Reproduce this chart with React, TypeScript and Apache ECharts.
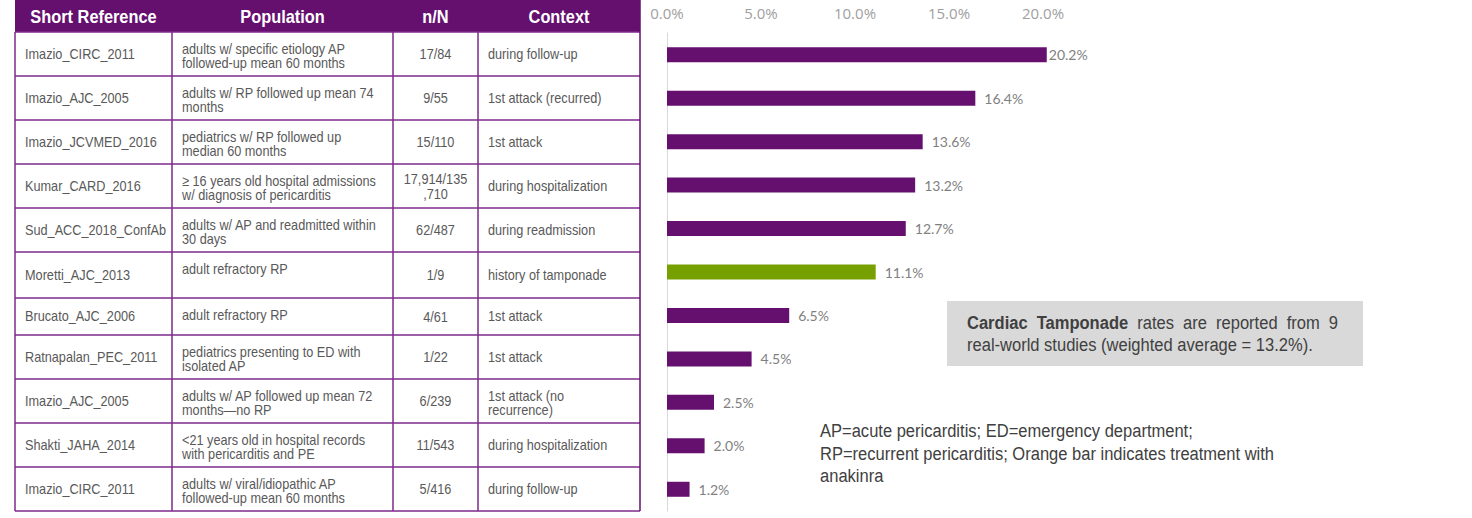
import React, { useEffect, useRef } from "react";
import * as echarts from "echarts";

// ---------- data ----------
const headers = ["Short Reference", "Population", "n/N", "Context"];
const references = [
  "Imazio_CIRC_2011",
  "Imazio_AJC_2005",
  "Imazio_JCVMED_2016",
  "Kumar_CARD_2016",
  "Sud_ACC_2018_ConfAb",
  "Moretti_AJC_2013",
  "Brucato_AJC_2006",
  "Ratnapalan_PEC_2011",
  "Imazio_AJC_2005",
  "Shakti_JAHA_2014",
  "Imazio_CIRC_2011",
];
const populations = [
  "adults w/ specific etiology AP\nfollowed-up mean 60 months",
  "adults w/ RP followed up mean 74\nmonths",
  "pediatrics w/ RP followed up\nmedian 60 months",
  "≥ 16 years old hospital admissions\nw/ diagnosis of pericarditis",
  "adults w/ AP and readmitted within\n30 days",
  "adult refractory RP",
  "adult refractory RP",
  "pediatrics presenting to ED with\nisolated AP",
  "adults w/ AP followed up mean 72\nmonths—no RP",
  "<21 years old in hospital records\nwith pericarditis and PE",
  "adults w/ viral/idiopathic AP\nfollowed-up mean 60 months",
];
const counts = [
  "17/84",
  "9/55",
  "15/110",
  "17,914/135\n,710",
  "62/487",
  "1/9",
  "4/61",
  "1/22",
  "6/239",
  "11/543",
  "5/416",
];
const contexts = [
  "during follow-up",
  "1st attack (recurred)",
  "1st attack",
  "during hospitalization",
  "during readmission",
  "history of tamponade",
  "1st attack",
  "1st attack",
  "1st attack (no\nrecurrence)",
  "during hospitalization",
  "during follow-up",
];
const rates = [20.2, 16.4, 13.6, 13.2, 12.7, 11.1, 6.5, 4.5, 2.5, 2.0, 1.2];
const greenRows = [5];
const xTicks = [0, 5, 10, 15, 20];
const xMax = 22;

const summaryWords = ["Cardiac", "Tamponade", "rates", "are", "reported", "from", "9"];
const summaryBoldCount = 2;
const summaryLine2 = "real-world studies (weighted average = 13.2%).";
const footnote =
  "AP=acute pericarditis; ED=emergency department;\nRP=recurrent pericarditis; Orange bar indicates treatment with\nanakinra";

// ---------- layout / style ----------
const PURPLE = "#65106f";
const GREEN = "#76a000";
const GRID_LINE = "#7d2b8b";
const BODY_TEXT = "#595959";
const SANS = '"Liberation Sans", Arial, sans-serif';
const NARROW_SCALE = 0.87;
const rowBounds = [32, 76, 120, 164, 208, 252, 298, 335, 379, 423, 467, 511];
const colBounds = [15, 172, 393, 478, 640];
const BOX = { x: 947, y: 301, w: 416, h: 65, textLeft: 967, textRight: 1338 };

function measure(text: string, size: number, weight: string): number {
  const c = document.createElement("canvas").getContext("2d");
  if (!c) return text.length * size * 0.5;
  c.font = `${weight} ${size}px "Liberation Sans"`;
  return c.measureText(text).width;
}

function narrowText(x: number, y: number, style: any) {
  return { type: "text", x, y, scaleX: NARROW_SCALE, style: { fontFamily: SANS, ...style } };
}

function buildGraphics() {
  const els: any[] = [];
  els.push({
    type: "rect",
    shape: { x: colBounds[0], y: 0, width: colBounds[4] - colBounds[0], height: rowBounds[0] },
    style: { fill: PURPLE },
  });
  headers.forEach((h, i) => {
    els.push(
      narrowText((colBounds[i] + colBounds[i + 1]) / 2, rowBounds[0] / 2 + 1, {
        text: h,
        fill: "#ffffff",
        fontSize: 18.8,
        fontWeight: "bold",
        align: "center",
        verticalAlign: "middle",
      })
    );
  });
  rowBounds.forEach((y) => {
    els.push({
      type: "line",
      shape: { x1: colBounds[0], y1: y, x2: colBounds[4], y2: y },
      style: { stroke: GRID_LINE, lineWidth: 1.5 },
    });
  });
  colBounds.forEach((x, i) => {
    els.push({
      type: "line",
      shape: { x1: x, y1: i === 4 ? 0 : rowBounds[0], x2: x, y2: rowBounds[rowBounds.length - 1] },
      style: { stroke: i === 4 ? PURPLE : GRID_LINE, lineWidth: 1.5 },
    });
  });
  references.forEach((ref, r) => {
    const top = rowBounds[r];
    const bot = rowBounds[r + 1];
    const mid = (top + bot) / 2;
    const base = { fill: BODY_TEXT, fontSize: 14.6, lineHeight: 14.5 };
    els.push(narrowText(colBounds[0] + 10, mid, { ...base, text: ref, align: "left", verticalAlign: "middle" }));
    els.push(
      narrowText(colBounds[1] + 10, top + 9.5, { ...base, text: populations[r], align: "left", verticalAlign: "top" })
    );
    els.push(
      narrowText((colBounds[2] + colBounds[3]) / 2, mid + 0.5, {
        ...base,
        text: counts[r],
        align: "center",
        verticalAlign: "middle",
      })
    );
    const multi = contexts[r].indexOf("\n") >= 0;
    els.push(
      narrowText(colBounds[3] + 10, multi ? top + 9.5 : mid, {
        ...base,
        text: contexts[r],
        align: "left",
        verticalAlign: multi ? "top" : "middle",
      })
    );
  });
  // summary box
  els.push({
    type: "rect",
    shape: { x: BOX.x, y: BOX.y, width: BOX.w, height: BOX.h },
    style: { fill: "#d9d9d9" },
  });
  const boxSize = 19;
  const widths = summaryWords.map(
    (w, i) => measure(w, boxSize, i < summaryBoldCount ? "bold" : "normal") * NARROW_SCALE
  );
  const total = widths.reduce((a, b) => a + b, 0);
  const gap = (BOX.textRight - BOX.textLeft - total) / (summaryWords.length - 1);
  let cx = BOX.textLeft;
  summaryWords.forEach((w, i) => {
    els.push(
      narrowText(cx, 323, {
        text: w,
        fill: "#404040",
        fontSize: boxSize,
        fontWeight: i < summaryBoldCount ? "bold" : "normal",
        align: "left",
        verticalAlign: "middle",
      })
    );
    cx += widths[i] + gap;
  });
  els.push(
    narrowText(BOX.textLeft, 345, {
      text: summaryLine2,
      fill: "#404040",
      fontSize: boxSize,
      align: "left",
      verticalAlign: "middle",
    })
  );
  els.push(
    narrowText(820, 419.75, {
      text: footnote,
      fill: "#404040",
      fontSize: 19,
      lineHeight: 22.5,
      align: "left",
      verticalAlign: "top",
    })
  );
  return els;
}

export default function App() {
  const ref = useRef<HTMLDivElement>(null);
  useEffect(() => {
    document.body.style.margin = "0";
    if (!ref.current) return;
    const chart = echarts.init(ref.current, null, { renderer: "svg" });
    const pxPerUnit = 18.8;
    chart.setOption({
      animation: false,
      backgroundColor: "#ffffff",
      grid: { left: 667, top: 33, width: xMax * pxPerUnit, height: 478 },
      xAxis: {
        type: "value",
        position: "top",
        min: xTicks[0],
        max: xMax,
        interval: xTicks[1] - xTicks[0],
        axisLine: { show: false },
        axisTick: { show: false },
        splitLine: { show: false },
        axisLabel: {
          formatter: (v: number) => v.toFixed(1) + "%",
          color: "#a0a0a0",
          fontSize: 15,
          fontFamily: '"Open Sans", sans-serif',
          margin: 13,
          showMaxLabel: false,
        },
      },
      yAxis: {
        type: "category",
        inverse: true,
        data: references.map((_, i) => String(i)),
        axisLine: { lineStyle: { color: "#d9d9d9", width: 1 } },
        axisTick: { length: 4, lineStyle: { color: "#d9d9d9" } },
        axisLabel: { show: false },
      },
      series: [
        {
          type: "bar",
          barWidth: 15,
          data: rates.map((v, i) => ({
            value: v,
            itemStyle: { color: greenRows.includes(i) ? GREEN : PURPLE },
            label: i === 0 ? { distance: 2 } : undefined,
          })),
          label: {
            show: true,
            position: "right",
            distance: 9,
            formatter: (p: any) => Number(p.value).toFixed(1) + "%",
            color: "#7f7f7f",
            fontSize: 14,
            fontFamily: "Lato, sans-serif",
          },
        },
      ],
      graphic: { elements: buildGraphics() },
    });
    return () => chart.dispose();
  }, []);
  return <div ref={ref} style={{ width: 1472, height: 518 }} />;
}
